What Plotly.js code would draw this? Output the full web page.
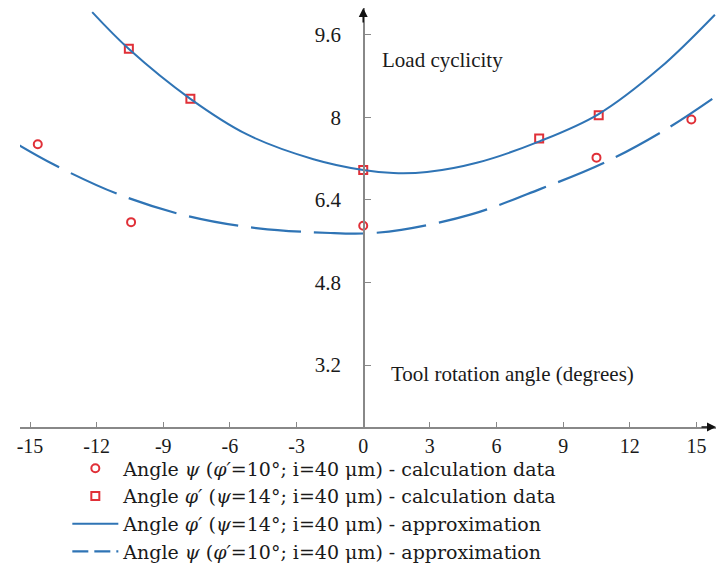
<!DOCTYPE html>
<html>
<head>
<meta charset="utf-8">
<script src="https://cdn.plot.ly/plotly-3.0.1.min.js"></script>
<style>
html,body{margin:0;padding:0;background:#fff;}
#chart{width:717px;height:566px;}
</style>
</head>
<body>
<div id="chart"></div>
<script>
// Calculation data: angle psi (phi'=10°)
const psiCalcX = [-14.65, -10.45, 0.0, 10.5, 14.77];
const psiCalcY = [7.48, 5.97, 5.90, 7.22, 7.96];
// Calculation data: angle phi' (psi=14°)
const phiCalcX = [-10.55, -7.78, 0.0, 7.92, 10.6];
const phiCalcY = [9.33, 8.36, 6.98, 7.59, 8.04];
// Approximation curve for phi' (solid)
const phiApproxX = [-12.2, -10.56, -7.78, -5.23, -2.24, 0.0, 1.36, 2.87, 5.11, 7.96, 10.58, 13.36, 15.83];
const phiApproxY = [10.04, 9.33, 8.36, 7.67, 7.19, 6.98, 6.92, 6.94, 7.12, 7.54, 8.06, 8.96, 9.99];
// Approximation curve for psi (dashed)
const psiApproxX = [-15.65, -13.95, -11.02, -7.92, -4.72, -1.48, 0.0, 1.71, 4.86, 7.96, 10.89, 13.63, 15.88];
const psiApproxY = [7.50, 7.09, 6.51, 6.09, 5.85, 5.76, 5.75, 5.82, 6.12, 6.61, 7.13, 7.77, 8.41];
// Axis ticks
const xTickVals = [-15, -12, -9, -6, -3, 0, 3, 6, 9, 12, 15];
const xTickText = ["-15", "-12", "-9", "-6", "-3", "0", "3", "6", "9", "12", "15"];
const yTickVals = [3.2, 4.8, 6.4, 8, 9.6];
const yTickText = ["3.2", "4.8", "6.4", "8", "9.6"];
// Legend names
const names = [
  "Angle <i>ψ</i> (<i>φ′</i>=10°; i=40 μm) - calculation data",
  "Angle <i>φ′</i> (<i>ψ</i>=14°; i=40 μm) - calculation data",
  "Angle <i>φ′</i> (<i>ψ</i>=14°; i=40 μm) - approximation",
  "Angle <i>ψ</i> (<i>φ′</i>=10°; i=40 μm) - approximation"
];

const blue = '#2f74b5';
const red = '#e03038';
const serif = '"Liberation Serif", "Times New Roman", serif';
const legendFont = '"DejaVu Serif", "Liberation Serif", serif';
const xr = [-15.45, 15.88];
const yr = [2.0, 10.12];

const traces = [
  {x: psiCalcX, y: psiCalcY, mode: 'markers', name: names[0],
   marker: {symbol: 'circle-open', size: 8, color: red, line: {width: 2, color: red}}},
  {x: phiCalcX, y: phiCalcY, mode: 'markers', name: names[1],
   marker: {symbol: 'square-open', size: 8, color: red, line: {width: 2, color: red}}},
  {x: phiApproxX, y: phiApproxY, mode: 'lines', name: names[2],
   line: {color: blue, width: 2, shape: 'spline', smoothing: 1}},
  {x: psiApproxX, y: psiApproxY, mode: 'lines', name: names[3], showlegend: false,
   line: {color: blue, width: 2.2, shape: 'spline', smoothing: 1, dash: '50px,13px'}},
  // legend entry for the dashed curve (short dashes so the pattern is visible in the legend)
  {x: [null], y: [null], mode: 'lines', name: names[3],
   line: {color: blue, width: 2.2, dash: '16px,6px'}}
];

const layout = {
  width: 717, height: 566,
  margin: {l: 20, r: 1, t: 8, b: 139},
  paper_bgcolor: '#fff', plot_bgcolor: '#fff',
  font: {family: serif, size: 20, color: '#1a1a1a'},
  showlegend: true,
  legend: {x: 0.068, xanchor: 'left', xref: 'paper', y: 0.206, yanchor: 'top', yref: 'container',
    font: {family: legendFont, size: 19, color: '#1a1a1a'}, bgcolor: 'rgba(0,0,0,0)', itemwidth: 46,
    tracegroupgap: 0},
  xaxis: {range: xr, showgrid: false, zeroline: false, showline: true, linecolor: '#888', linewidth: 1.5,
    ticks: 'inside', ticklen: 5, tickcolor: '#888', tickmode: 'array', tickvals: xTickVals, ticktext: xTickText,
    tickfont: {family: serif, size: 20, color: '#1a1a1a'}},
  yaxis: {range: yr, anchor: 'free', position: (0 - xr[0]) / (xr[1] - xr[0]),
    showgrid: false, zeroline: false, showline: true, linecolor: '#888', linewidth: 1.5,
    ticks: 'inside', ticklen: 6, tickcolor: '#888', tickmode: 'array', tickvals: yTickVals, ticktext: yTickText,
    ticklabelstandoff: 18, tickfont: {family: serif, size: 21, color: '#1a1a1a'}},
  annotations: [
    {x: 0.76, y: 9.12, xref: 'x', yref: 'y', text: 'Load cyclicity', showarrow: false,
     xanchor: 'left', yanchor: 'middle', font: {family: serif, size: 21, color: '#1a1a1a'}},
    {x: 1.17, y: 3.03, xref: 'x', yref: 'y', text: 'Tool rotation angle (degrees)', showarrow: false,
     xanchor: 'left', yanchor: 'middle', font: {family: serif, size: 21, color: '#1a1a1a'}},
    {x: 0, y: yr[1], xref: 'x', yref: 'y', ax: 0, ay: 16, text: '', showarrow: true,
     arrowhead: 2, arrowsize: 1.2, arrowwidth: 1.5, arrowcolor: '#111'},
    {x: xr[1], y: yr[0], xref: 'x', yref: 'y', ax: -16, ay: 0, text: '', showarrow: true,
     arrowhead: 2, arrowsize: 1.2, arrowwidth: 1.5, arrowcolor: '#111'}
  ]
};

Plotly.newPlot('chart', traces, layout, {displayModeBar: false, staticPlot: true});
</script>
</body>
</html>
